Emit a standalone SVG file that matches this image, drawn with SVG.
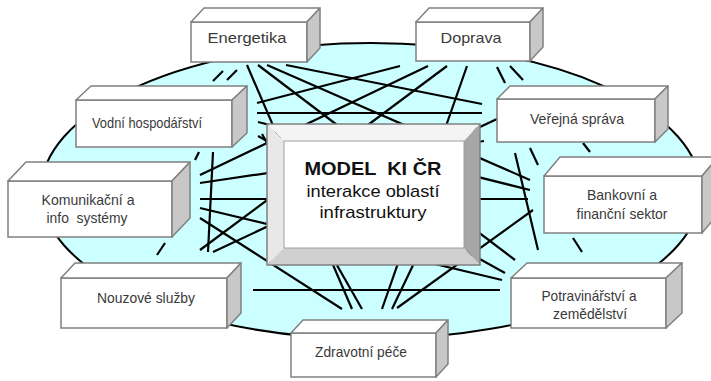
<svg xmlns="http://www.w3.org/2000/svg" width="711" height="381" viewBox="0 0 711 381">
<style>
.bg{fill:#ffffff}
.ell{fill:#ccffff;stroke:#000;stroke-width:2}
.ln line{stroke:#000;stroke-width:2.2}
.fr{fill:#fff;stroke:#808080;stroke-width:1.5}
.tp{fill:#fff;stroke:#808080;stroke-width:1.5;stroke-linejoin:round}
.rt{fill:#c8c8c8;stroke:#808080;stroke-width:1.5;stroke-linejoin:round}
.lb{font-family:"Liberation Sans",Arial,sans-serif;font-size:15px;fill:#3a3a3a;text-anchor:middle}
.cb{font-family:"Liberation Sans",Arial,sans-serif;fill:#111;text-anchor:middle}
</style>
<rect class="bg" x="0" y="0" width="711" height="381"/>
<ellipse class="ell" cx="371" cy="191" rx="330" ry="148"/>
<g id="connectors" class="ln">
<line x1="213" y1="81" x2="223" y2="71"/>
<line x1="227" y1="80" x2="237" y2="70"/>
<line x1="247" y1="65" x2="352" y2="309"/>
<line x1="258" y1="65" x2="515" y2="260"/>
<line x1="267" y1="65" x2="530" y2="180"/>
<line x1="286" y1="65" x2="482" y2="104"/>
<line x1="257" y1="103" x2="400" y2="66"/>
<line x1="257" y1="113" x2="482" y2="113"/>
<line x1="428" y1="66" x2="200" y2="175"/>
<line x1="447" y1="66" x2="200" y2="250"/>
<line x1="467" y1="66" x2="382" y2="309"/>
<line x1="497" y1="67" x2="505" y2="83"/>
<line x1="510" y1="66" x2="523" y2="80"/>
<line x1="258" y1="122" x2="530" y2="190"/>
<line x1="262" y1="134" x2="362" y2="309"/>
<line x1="258" y1="136" x2="505" y2="273"/>
<line x1="200" y1="183" x2="484" y2="141"/>
<line x1="200" y1="199" x2="528" y2="199"/>
<line x1="200" y1="208" x2="502" y2="280"/>
<line x1="200" y1="218" x2="342" y2="309"/>
<line x1="195" y1="160" x2="199" y2="152"/>
<line x1="213" y1="152" x2="208" y2="252"/>
<line x1="213" y1="252" x2="497" y2="119"/>
<line x1="157" y1="255" x2="165" y2="243"/>
<line x1="253" y1="290" x2="500" y2="290"/>
<line x1="515" y1="153" x2="538" y2="250"/>
<line x1="530" y1="148" x2="538" y2="165"/>
<line x1="583" y1="143" x2="590" y2="152"/>
<line x1="573" y1="238" x2="582" y2="252"/>
<line x1="397" y1="308" x2="533" y2="210"/>
<line x1="392" y1="309" x2="476" y2="134"/>
</g>
<g id="center">
<polygon points="267,124 480,124 464,141 284,141" fill="#f4f4f4"/>
<polygon points="267,124 284,141 284,248 267,265" fill="#e8e8e8"/>
<polygon points="480,124 480,265 464,248 464,141" fill="#a6a6a6"/>
<polygon points="267,265 480,265 464,248 284,248" fill="#cfcfcf"/>
<rect x="284" y="141" width="180" height="107" fill="#fff" stroke="#a0a0a0" stroke-width="1"/>
<rect x="267" y="124" width="213" height="141" fill="none" stroke="#808080" stroke-width="1.5"/>
<text class="cb" x="373" y="175" font-size="19" font-weight="bold" style="white-space:pre" textLength="137" lengthAdjust="spacingAndGlyphs">MODEL  KI ČR</text>
<text class="cb" x="373" y="197" font-size="17" textLength="133" lengthAdjust="spacingAndGlyphs">interakce oblastí</text>
<text class="cb" x="373" y="218" font-size="17" textLength="107" lengthAdjust="spacingAndGlyphs">infrastruktury</text>
</g>
<g id="energetika">
<rect class="fr" x="191" y="22" width="116" height="40"/>
<polygon class="tp" points="191,22 204,8 320,8 307,22"/>
<polygon class="rt" points="307,22 320,8 320,48 307,62"/>
<text class="lb" x="247" y="43" textLength="79" lengthAdjust="spacingAndGlyphs">Energetika</text>
</g>
<g id="doprava">
<rect class="fr" x="416" y="22" width="114" height="39"/>
<polygon class="tp" points="416,22 429,8 543,8 530,22"/>
<polygon class="rt" points="530,22 543,8 543,47 530,61"/>
<text class="lb" x="471" y="43" textLength="61" lengthAdjust="spacingAndGlyphs">Doprava</text>
</g>
<g id="verejna">
<rect class="fr" x="497" y="99" width="158" height="43"/>
<polygon class="tp" points="497,99 510,86 668,86 655,99"/>
<polygon class="rt" points="655,99 668,86 668,129 655,142"/>
<text class="lb" x="577" y="124" textLength="94" lengthAdjust="spacingAndGlyphs">Veřejná správa</text>
</g>
<g id="vodni">
<rect class="fr" x="76" y="100" width="156" height="47"/>
<polygon class="tp" points="76,100 91,86 247,86 232,100"/>
<polygon class="rt" points="232,100 247,86 247,133 232,147"/>
<text class="lb" x="147" y="128" textLength="110" lengthAdjust="spacingAndGlyphs">Vodní hospodářství</text>
</g>
<g id="komunikacni">
<rect class="fr" x="8" y="181" width="164" height="56"/>
<polygon class="tp" points="8,181 26,162 190,162 172,181"/>
<polygon class="rt" points="172,181 190,162 190,218 172,237"/>
<text class="lb" x="88" y="205" textLength="93" lengthAdjust="spacingAndGlyphs">Komunikační a</text>
<text class="lb" x="87" y="223" style="white-space:pre" textLength="81" lengthAdjust="spacingAndGlyphs">info  systémy</text>
</g>
<g id="bankovni">
<rect class="fr" x="544" y="176" width="158" height="57"/>
<polygon class="tp" points="544,176 560,157 718,157 702,176"/>
<polygon class="rt" points="702,176 718,157 718,214 702,233"/>
<text class="lb" x="622" y="200" textLength="70" lengthAdjust="spacingAndGlyphs">Bankovní a</text>
<text class="lb" x="622" y="219" textLength="91" lengthAdjust="spacingAndGlyphs">finanční sektor</text>
</g>
<g id="nouzove">
<rect class="fr" x="61" y="278" width="166" height="50"/>
<polygon class="tp" points="61,278 75,263 241,263 227,278"/>
<polygon class="rt" points="227,278 241,263 241,313 227,328"/>
<text class="lb" x="146" y="303" textLength="98" lengthAdjust="spacingAndGlyphs">Nouzové služby</text>
</g>
<g id="potravinarstvi">
<rect class="fr" x="511" y="278" width="155" height="50"/>
<polygon class="tp" points="511,278 527,263 682,263 666,278"/>
<polygon class="rt" points="666,278 682,263 682,313 666,328"/>
<text class="lb" x="589" y="301" textLength="95" lengthAdjust="spacingAndGlyphs">Potravinářství a</text>
<text class="lb" x="590" y="319" textLength="74" lengthAdjust="spacingAndGlyphs">zemědělství</text>
</g>
<g id="zdravotni">
<rect class="fr" x="291" y="333" width="145" height="44"/>
<polygon class="tp" points="291,333 303,320 448,320 436,333"/>
<polygon class="rt" points="436,333 448,320 448,364 436,377"/>
<text class="lb" x="361" y="357" textLength="92" lengthAdjust="spacingAndGlyphs">Zdravotní péče</text>
</g>
</svg>
